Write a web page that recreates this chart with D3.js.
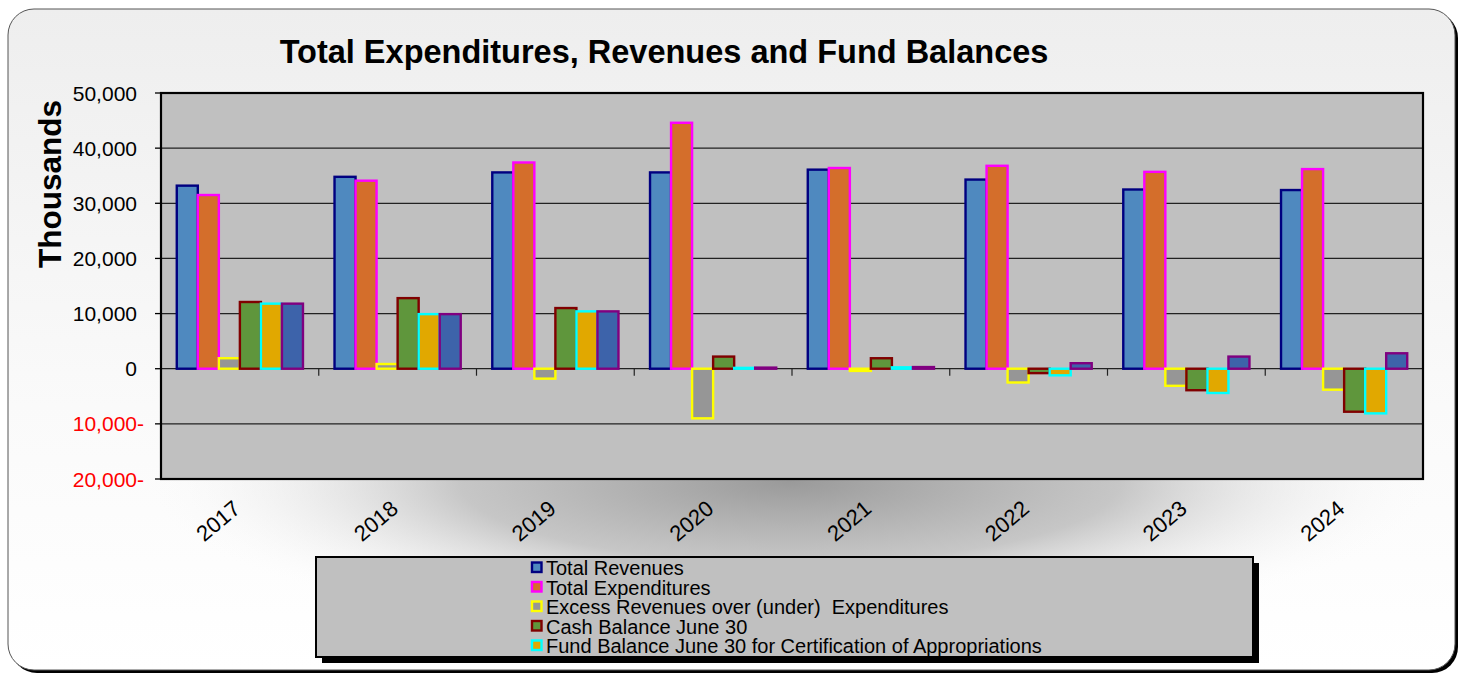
<!DOCTYPE html>
<html>
<head>
<meta charset="utf-8">
<script src="https://cdn.jsdelivr.net/npm/d3@7/dist/d3.min.js"></script>
<style>
  html, body { margin: 0; padding: 0; background: #ffffff; }
  svg { display: block; font-family: Arial, "Liberation Sans", sans-serif; }
</style>
</head>
<body>
<svg id="chart" width="1462" height="675"></svg>
<script>
// ---------------- DATA ----------------
const years = ["2017", "2018", "2019", "2020", "2021", "2022", "2023", "2024"];
const totalRevenues     = [33200, 34800, 35600, 35600, 36100, 34300, 32500, 32400];
const totalExpenditures = [31500, 34100, 37400, 44600, 36400, 36800, 35700, 36200];
const excessRevenues    = [1900, 850, -1800, -9000, -400, -2500, -3100, -3800];
const cashBalance       = [12100, 12800, 11000, 2200, 1900, -800, -3900, -7800];
const fundBalance       = [11800, 9900, 10400, 150, 250, -1200, -4400, -8100];
const sixthSeries       = [11800, 9900, 10400, 200, 300, 1000, 2200, 2800];

const seriesNames = [
  "Total Revenues",
  "Total Expenditures",
  "Excess Revenues over (under)  Expenditures",
  "Cash Balance June 30",
  "Fund Balance June 30 for Certification of Appropriations",
  "Series 6"
];
const seriesValues = [totalRevenues, totalExpenditures, excessRevenues, cashBalance, fundBalance, sixthSeries];
const legendCount = 5; // the sixth entry is cut off in the original legend
const yTicks = [-20000, -10000, 0, 10000, 20000, 30000, 40000, 50000];
const titleText = "Total Expenditures, Revenues and Fund Balances";
const yAxisTitle = "Thousands";

// ---------------- STYLE ----------------
const fills   = ["#4F89BF", "#D46E2B", "#969696", "#5F963C", "#E1A800", "#3D63AA"];
const strokes = ["#000080", "#FF00FF", "#FFFF00", "#800000", "#00FFFF", "#800080"];

const svg = d3.select("#chart");
const defs = svg.append("defs");

const bgGrad = defs.append("linearGradient").attr("id", "bgGrad")
  .attr("x1", 0).attr("y1", 0).attr("x2", 0).attr("y2", 1);
bgGrad.append("stop").attr("offset", "0%").attr("stop-color", "#eeeeee");
bgGrad.append("stop").attr("offset", "60%").attr("stop-color", "#fafafa");
bgGrad.append("stop").attr("offset", "100%").attr("stop-color", "#ffffff");

const shGrad = defs.append("radialGradient").attr("id", "shGrad");
shGrad.append("stop").attr("offset", "0%").attr("stop-color", "#9a9a9a").attr("stop-opacity", 1);
shGrad.append("stop").attr("offset", "50%").attr("stop-color", "#bdbdbd").attr("stop-opacity", 0.85);
shGrad.append("stop").attr("offset", "100%").attr("stop-color", "#ffffff").attr("stop-opacity", 0);

// Outer frame with shadow
svg.append("rect").attr("x", 11).attr("y", 12).attr("width", 1447).attr("height", 661)
  .attr("rx", 26).attr("fill", "#000");
svg.append("rect").attr("x", 8).attr("y", 9).attr("width", 1447).attr("height", 661)
  .attr("rx", 26).attr("fill", "url(#bgGrad)").attr("stroke", "#555").attr("stroke-width", 1);

// soft shadow beneath plot
svg.append("ellipse").attr("cx", 790).attr("cy", 482).attr("rx", 660).attr("ry", 160)
  .attr("fill", "url(#shGrad)");

// ---------------- SCALES ----------------
const plot = { left: 161, top: 93, right: 1423, bottom: 479 };

const x0 = d3.scaleBand().domain(years).range([plot.left, plot.right]).padding(0);
const x1 = d3.scaleBand().domain(d3.range(seriesNames.length))
  .range([x0.bandwidth() * 0.1, x0.bandwidth() * 0.9]).padding(0);
const y = d3.scaleLinear().domain([-20000, 50000]).range([plot.bottom, plot.top]);

// plot background
svg.append("rect").attr("x", plot.left).attr("y", plot.top)
  .attr("width", plot.right - plot.left).attr("height", plot.bottom - plot.top)
  .attr("fill", "#C0C0C0");

// gridlines
svg.append("g").selectAll("line").data(yTicks).join("line")
  .attr("x1", plot.left).attr("x2", plot.right)
  .attr("y1", d => y(d)).attr("y2", d => y(d))
  .attr("stroke", "#222").attr("stroke-width", 1.3);

// bars
const groups = svg.append("g").selectAll("g").data(years).join("g")
  .attr("transform", d => `translate(${x0(d)},0)`);
groups.selectAll("rect")
  .data((yr, i) => seriesValues.map((vals, s) => ({ s, v: vals[i] })))
  .join("rect")
  .attr("x", d => x1(d.s))
  .attr("width", x1.bandwidth())
  .attr("y", d => y(Math.max(0, d.v)))
  .attr("height", d => Math.max(0.5, Math.abs(y(d.v) - y(0))))
  .attr("fill", d => fills[d.s])
  .attr("stroke", d => strokes[d.s])
  .attr("stroke-width", 2.4);

// x axis tick marks at category boundaries along zero line
svg.append("g").selectAll("line").data(years.slice(1)).join("line")
  .attr("x1", d => x0(d)).attr("x2", d => x0(d))
  .attr("y1", y(0)).attr("y2", y(0) + 7)
  .attr("stroke", "#222").attr("stroke-width", 1.2);

// plot border
svg.append("rect").attr("x", plot.left).attr("y", plot.top)
  .attr("width", plot.right - plot.left).attr("height", plot.bottom - plot.top)
  .attr("fill", "none").attr("stroke", "#000").attr("stroke-width", 2.2);

// y axis ticks + labels
const yAxis = svg.append("g");
yAxis.selectAll("line").data(yTicks).join("line")
  .attr("x1", plot.left - 6).attr("x2", plot.left)
  .attr("y1", d => y(d)).attr("y2", d => y(d))
  .attr("stroke", "#000").attr("stroke-width", 1.3);
const fmt = d3.format(",");
yAxis.selectAll("text").data(yTicks).join("text")
  .attr("x", d => d < 0 ? 144 : 137)
  .attr("y", d => y(d))
  .attr("dy", "0.36em")
  .attr("text-anchor", "end")
  .attr("font-size", 21)
  .attr("fill", d => d < 0 ? "#FF0000" : "#000")
  .text(d => d < 0 ? fmt(-d) + "-" : fmt(d));

// x labels
svg.append("g").selectAll("text").data(years).join("text")
  .attr("transform", d => `translate(${x0(d) + x0.bandwidth() / 2 + 2},511) rotate(-40)`)
  .attr("text-anchor", "end")
  .attr("font-size", 22)
  .attr("fill", "#000")
  .text(d => d);

// title
svg.append("text").attr("x", 664).attr("y", 63)
  .attr("text-anchor", "middle").attr("font-size", 32.5).attr("font-weight", "bold")
  .attr("fill", "#000").text(titleText);

// y axis title
svg.append("text").attr("transform", "translate(61,184) rotate(-90)")
  .attr("text-anchor", "middle").attr("font-size", 31.5).attr("font-weight", "bold")
  .attr("fill", "#000").text(yAxisTitle);

// ---------------- LEGEND ----------------
const lg = { x: 316, y: 557, w: 937, h: 100 };
svg.append("rect").attr("x", lg.x + 6).attr("y", lg.y + 6).attr("width", lg.w).attr("height", lg.h)
  .attr("fill", "#000");
svg.append("rect").attr("x", lg.x).attr("y", lg.y).attr("width", lg.w).attr("height", lg.h)
  .attr("fill", "#C0C0C0").attr("stroke", "#000").attr("stroke-width", 2);

const legendItems = seriesNames.slice(0, legendCount).map((n, i) => ({ n, i }));
const lRow = svg.append("g").selectAll("g").data(legendItems).join("g")
  .attr("transform", d => `translate(531, ${568 + d.i * 19.5})`);
lRow.append("rect").attr("x", 1).attr("y", -5.5).attr("width", 9.5).attr("height", 9.5)
  .attr("fill", d => fills[d.i]).attr("stroke", d => strokes[d.i]).attr("stroke-width", 2.4);
lRow.append("text").attr("x", 15).attr("y", 0).attr("dy", "0.36em")
  .attr("font-size", 20).attr("fill", "#000")
  .style("white-space", "pre")
  .text(d => d.n);
</script>
</body>
</html>
